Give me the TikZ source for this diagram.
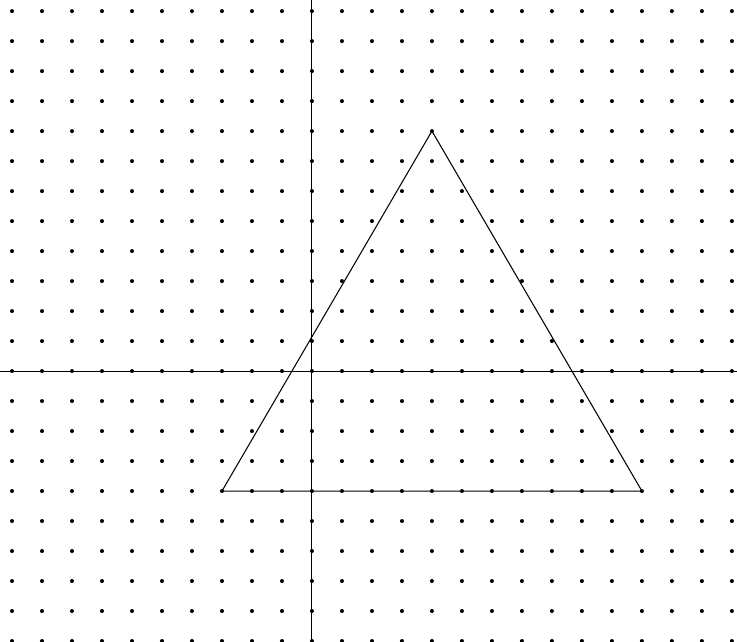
\documentclass[tikz,border=0pt]{standalone}
\begin{document}
\begin{tikzpicture}[x=1cm,y=1cm,line width=1pt]
                \useasboundingbox (-10.4,-9.0) rectangle (14.17,12.37);
                \foreach \i in {-10,...,14}
                    \foreach \j in {-9,...,12}
                        \fill[black] (\i,\j) circle (1.9pt);
                \draw (-10.4,0) -- (14.17,0);
                \draw (0,-9.0) -- (0,12.37);
                \coordinate (A) at (4,8);
                \coordinate (B) at (-3,-4);
                \coordinate (C) at (11,-4);
                \draw (A) -- (B) -- (C) -- cycle;
            \end{tikzpicture}
\end{document}
